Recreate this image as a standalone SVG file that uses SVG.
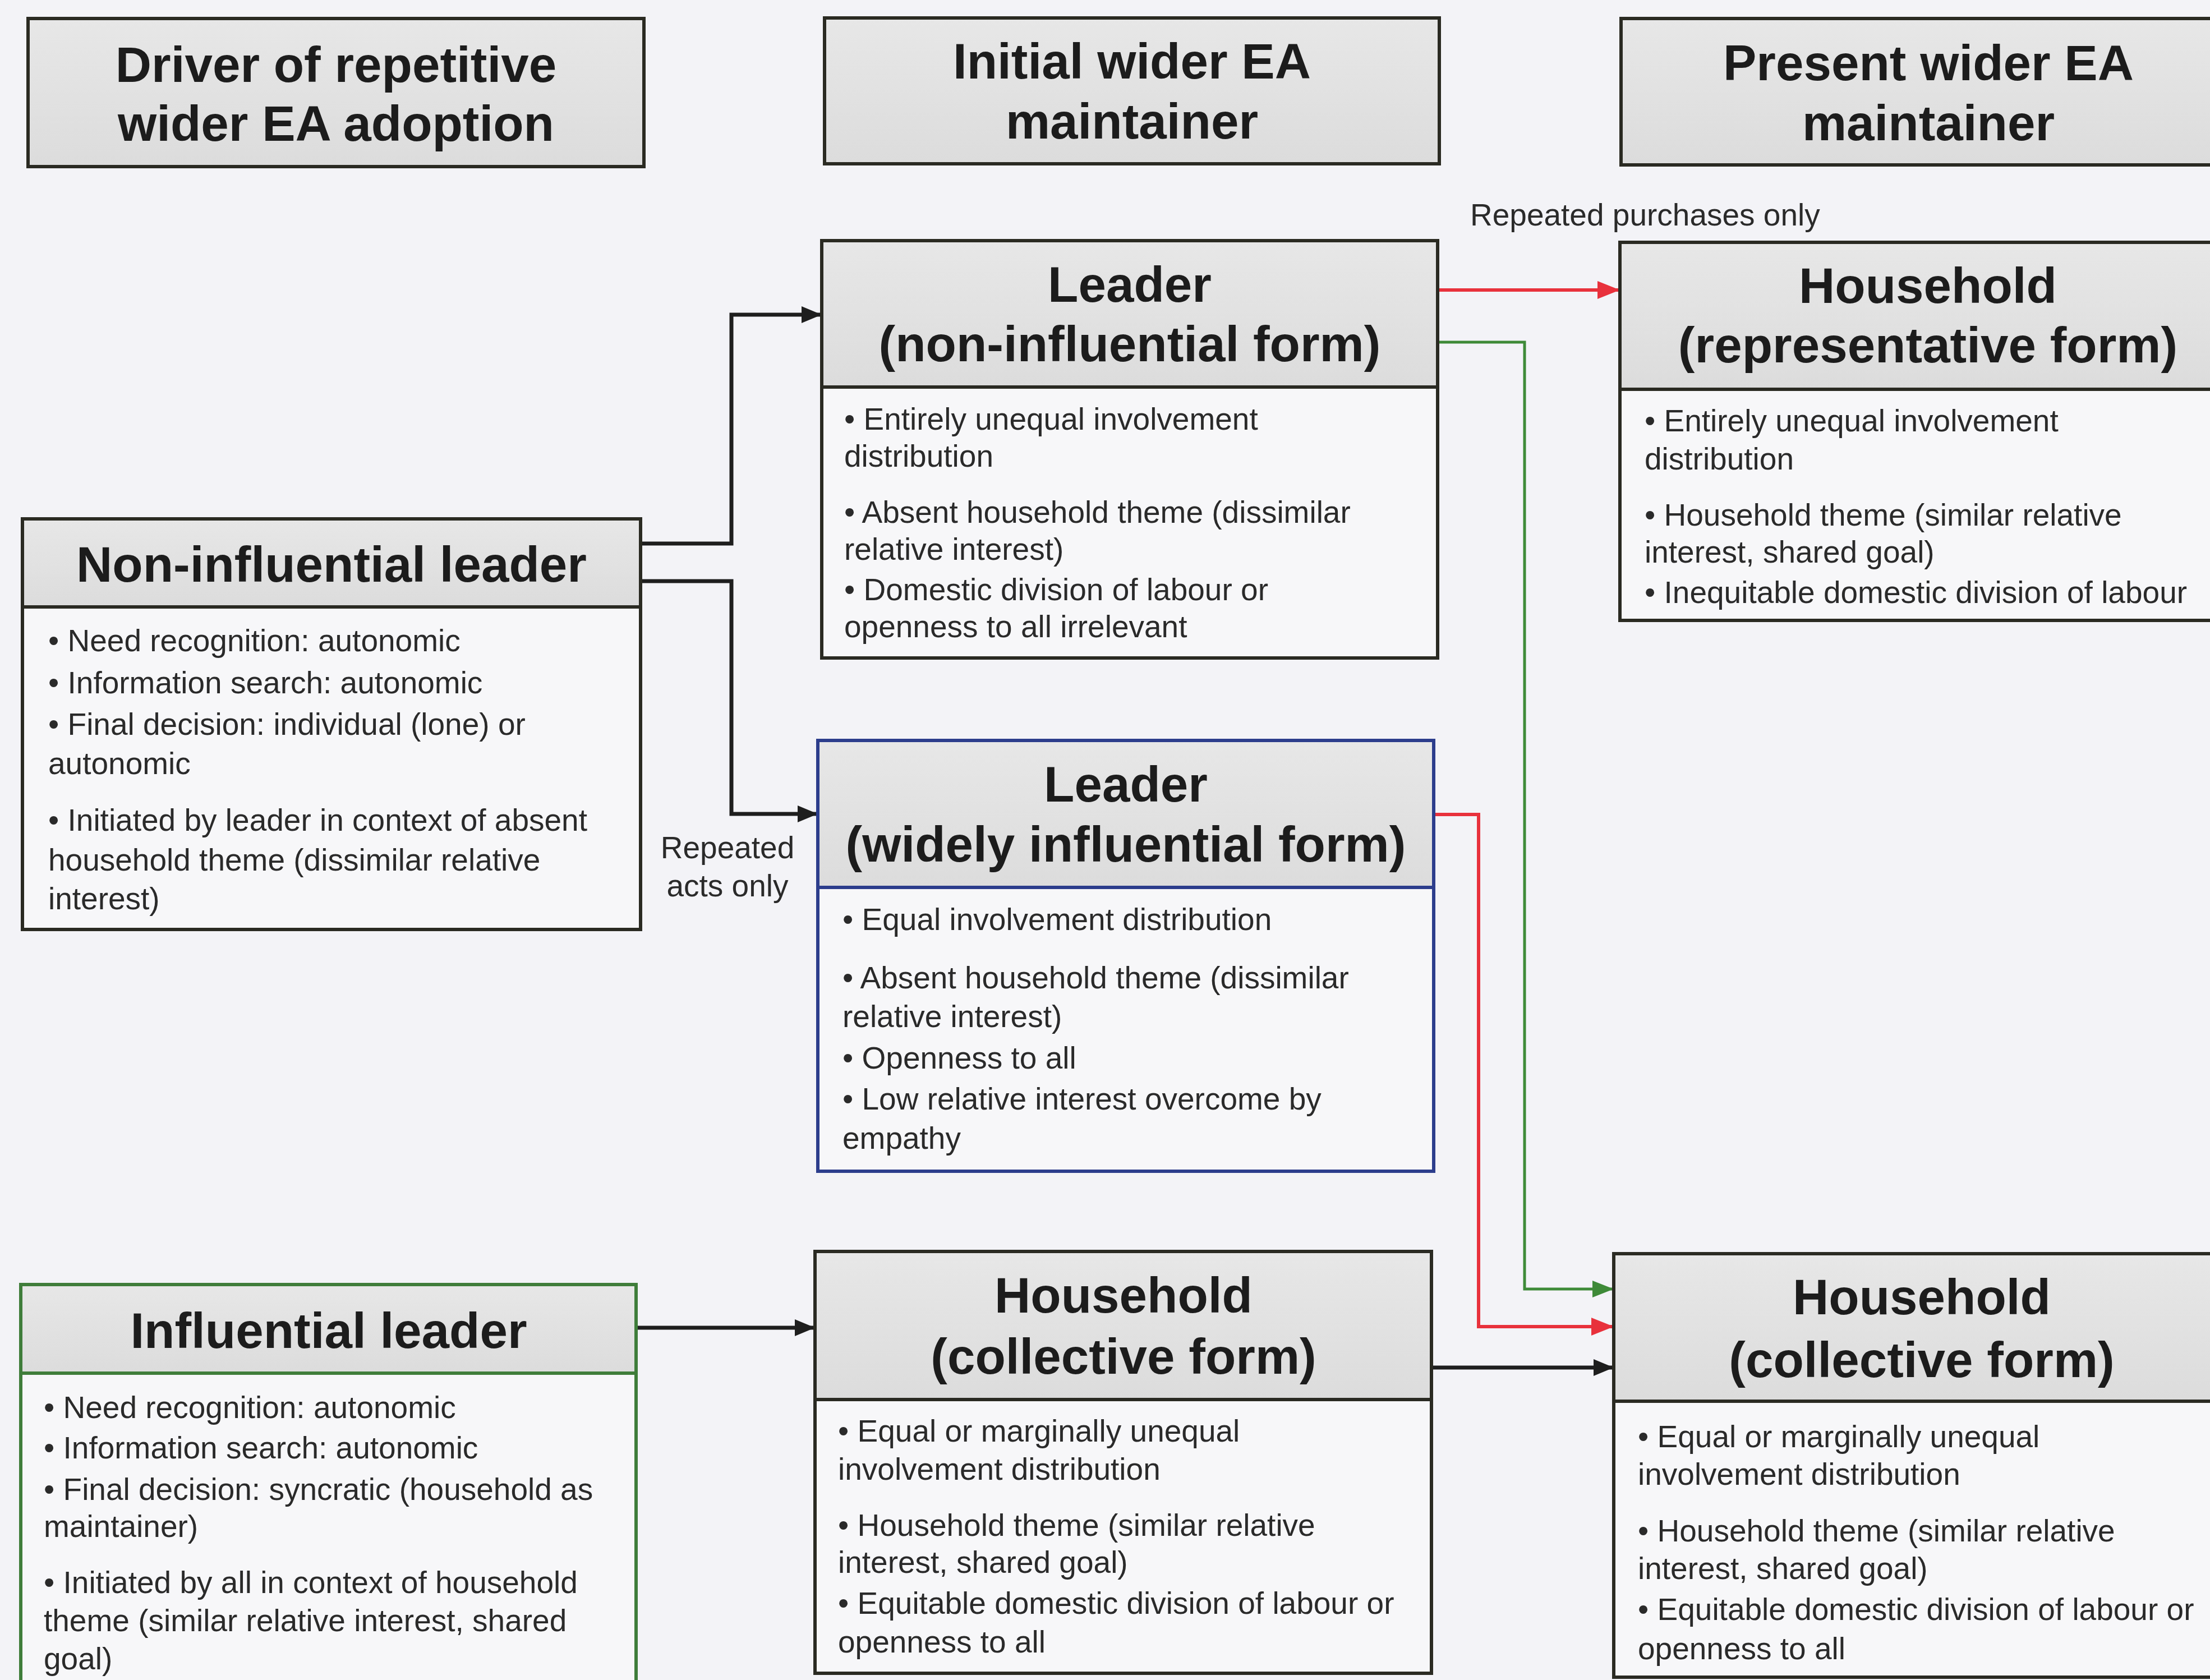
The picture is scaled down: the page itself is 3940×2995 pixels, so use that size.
<svg xmlns="http://www.w3.org/2000/svg" width="3940" height="2995" viewBox="0 0 3940 2995">
  <defs>
    <linearGradient id="band" x1="0" y1="0" x2="0" y2="1">
      <stop offset="0" stop-color="#e7e7e7"/>
      <stop offset="1" stop-color="#dcdcdc"/>
    </linearGradient>
    <marker id="arr-k" markerUnits="userSpaceOnUse" viewBox="0 0 36 30" refX="36" refY="15" markerWidth="36" markerHeight="30" orient="auto">
      <path d="M0,0 L36,15 L0,30 z" fill="#1e1e1e"/>
    </marker>
    <marker id="arr-r" markerUnits="userSpaceOnUse" viewBox="0 0 40 32" refX="40" refY="16" markerWidth="40" markerHeight="32" orient="auto">
      <path d="M0,0 L40,16 L0,32 z" fill="#e8313c"/>
    </marker>
    <marker id="arr-g" markerUnits="userSpaceOnUse" viewBox="0 0 38 30" refX="38" refY="15" markerWidth="38" markerHeight="30" orient="auto">
      <path d="M0,0 L38,15 L0,30 z" fill="#3e8a38"/>
    </marker>
  </defs>
  <style>
    .title{font-family:"Liberation Sans",Arial,sans-serif;font-weight:bold;font-size:89px;fill:#1c1c1c;text-anchor:middle}
    .body{font-family:"Liberation Sans",Arial,sans-serif;font-size:55px;fill:#2a2a2a}
    .mid{text-anchor:middle}
    .band{fill:url(#band)}
    .panel{fill:#f7f7f9}
    .frame{fill:none;stroke-width:6}
    .k{stroke:#2a2a22}
    .b{stroke:#2c3d8c}
    .g{stroke:#3f7d3a}
    .wire{fill:none;stroke-linejoin:miter}
    .wk{stroke:#1e1e1e;stroke-width:7}
    .wr{stroke:#e8313c;stroke-width:6}
    .wg{stroke:#3e8a38;stroke-width:5}
  </style>

  <rect x="0" y="0" width="3940" height="2995" fill="#f3f3f7"/>

  <!-- column headers -->
  <g id="hdr-driver">
    <rect class="band" x="50" y="33" width="1098" height="264"/>
    <rect class="frame k" x="50" y="33" width="1098" height="264"/>
    <text class="title" x="599" y="146">Driver of repetitive</text>
    <text class="title" x="599" y="251">wider EA adoption</text>
  </g>
  <g id="hdr-initial">
    <rect class="band" x="1470" y="32" width="1096" height="260"/>
    <rect class="frame k" x="1470" y="32" width="1096" height="260"/>
    <text class="title" x="2018" y="140">Initial wider EA</text>
    <text class="title" x="2018" y="247">maintainer</text>
  </g>
  <g id="hdr-present">
    <rect class="band" x="2890" y="33" width="1100" height="261"/>
    <rect class="frame k" x="2890" y="33" width="1100" height="261"/>
    <text class="title" x="3438" y="143">Present wider EA</text>
    <text class="title" x="3438" y="250">maintainer</text>
  </g>

  <!-- connectors -->
  <g id="connectors">
    <path class="wire wk" d="M1140,969 H1304 V561 H1465" marker-end="url(#arr-k)"/>
    <path class="wire wk" d="M1140,1036 H1304 V1451 H1458" marker-end="url(#arr-k)"/>
    <path class="wire wr" d="M2562,517 H2888" stroke-width="8" marker-end="url(#arr-r)"/>
    <path class="wire wg" d="M2562,610 H2718 V2298 H2877" marker-end="url(#arr-g)"/>
    <path class="wire wr" d="M2555,1452 H2636 V2365 H2877" marker-end="url(#arr-r)"/>
    <path class="wire wk" d="M2552,2438 H2877" marker-end="url(#arr-k)"/>
    <path class="wire wk" d="M1134,2367 H1453" marker-end="url(#arr-k)"/>
    <text class="body" x="2621" y="402">Repeated purchases only</text>
    <text class="body mid" x="1297" y="1530">Repeated</text>
    <text class="body mid" x="1297" y="1598">acts only</text>
  </g>

  <!-- Leader (non-influential form) -->
  <g id="leader-noninfluential">
    <rect class="panel" x="1465" y="429" width="1098" height="744"/>
    <rect class="band" x="1465" y="429" width="1098" height="261"/>
    <line class="frame k" x1="1465" y1="690" x2="2563" y2="690"/>
    <rect class="frame k" x="1465" y="429" width="1098" height="744"/>
    <text class="title" x="2014" y="538">Leader</text>
    <text class="title" x="2014" y="644">(non-influential form)</text>
    <text class="body" x="1505" y="766">• Entirely unequal involvement</text>
    <text class="body" x="1505" y="832">distribution</text>
    <text class="body" x="1505" y="932">• Absent household theme (dissimilar</text>
    <text class="body" x="1505" y="998">relative interest)</text>
    <text class="body" x="1505" y="1070">• Domestic division of labour or</text>
    <text class="body" x="1505" y="1136">openness to all irrelevant</text>
  </g>

  <!-- Household (representative form) -->
  <g id="household-representative">
    <rect class="panel" x="2888" y="432" width="1100" height="674"/>
    <rect class="band" x="2888" y="432" width="1100" height="262"/>
    <line class="frame k" x1="2888" y1="694" x2="3988" y2="694"/>
    <rect class="frame k" x="2888" y="432" width="1100" height="674"/>
    <text class="title" x="3437" y="540">Household</text>
    <text class="title" x="3437" y="646">(representative form)</text>
    <text class="body" x="2932" y="769">• Entirely unequal involvement</text>
    <text class="body" x="2932" y="837">distribution</text>
    <text class="body" x="2932" y="937">• Household theme (similar relative</text>
    <text class="body" x="2932" y="1003">interest, shared goal)</text>
    <text class="body" x="2932" y="1075">• Inequitable domestic division of labour</text>
  </g>

  <!-- Non-influential leader -->
  <g id="noninfluential-leader">
    <rect class="panel" x="40" y="925" width="1102" height="732"/>
    <rect class="band" x="40" y="925" width="1102" height="157"/>
    <line class="frame k" x1="40" y1="1082" x2="1142" y2="1082"/>
    <rect class="frame k" x="40" y="925" width="1102" height="732"/>
    <text class="title" x="591" y="1037">Non-influential leader</text>
    <text class="body" x="86" y="1161">• Need recognition: autonomic</text>
    <text class="body" x="86" y="1236">• Information search: autonomic</text>
    <text class="body" x="86" y="1310">• Final decision: individual (lone) or</text>
    <text class="body" x="86" y="1380">autonomic</text>
    <text class="body" x="86" y="1481">• Initiated by leader in context of absent</text>
    <text class="body" x="86" y="1552">household theme (dissimilar relative</text>
    <text class="body" x="86" y="1621">interest)</text>
  </g>

  <!-- Leader (widely influential form) -->
  <g id="leader-widely-influential">
    <rect class="panel" x="1458" y="1320" width="1098" height="768"/>
    <rect class="band" x="1458" y="1320" width="1098" height="262"/>
    <line class="frame b" x1="1458" y1="1582" x2="2556" y2="1582"/>
    <rect class="frame b" x="1458" y="1320" width="1098" height="768"/>
    <text class="title" x="2007" y="1429">Leader</text>
    <text class="title" x="2007" y="1536">(widely influential form)</text>
    <text class="body" x="1502" y="1658">• Equal involvement distribution</text>
    <text class="body" x="1502" y="1762">• Absent household theme (dissimilar</text>
    <text class="body" x="1502" y="1831">relative interest)</text>
    <text class="body" x="1502" y="1905">• Openness to all</text>
    <text class="body" x="1502" y="1978">• Low relative interest overcome by</text>
    <text class="body" x="1502" y="2048">empathy</text>
  </g>

  <!-- Influential leader -->
  <g id="influential-leader">
    <rect class="panel" x="37" y="2290" width="1097" height="730"/>
    <rect class="band" x="37" y="2290" width="1097" height="158"/>
    <line class="frame g" x1="37" y1="2448" x2="1134" y2="2448"/>
    <rect class="frame g" x="37" y="2290" width="1097" height="730"/>
    <text class="title" x="586" y="2403">Influential leader</text>
    <text class="body" x="78" y="2528">• Need recognition: autonomic</text>
    <text class="body" x="78" y="2600">• Information search: autonomic</text>
    <text class="body" x="78" y="2674">• Final decision: syncratic (household as</text>
    <text class="body" x="78" y="2740">maintainer)</text>
    <text class="body" x="78" y="2840">• Initiated by all in context of household</text>
    <text class="body" x="78" y="2908">theme (similar relative interest, shared</text>
    <text class="body" x="78" y="2976">goal)</text>
  </g>

  <!-- Household (collective form), initial -->
  <g id="household-collective-initial">
    <rect class="panel" x="1453" y="2231" width="1099" height="752"/>
    <rect class="band" x="1453" y="2231" width="1099" height="264"/>
    <line class="frame k" x1="1453" y1="2495" x2="2552" y2="2495"/>
    <rect class="frame k" x="1453" y="2231" width="1099" height="752"/>
    <text class="title" x="2003" y="2340">Household</text>
    <text class="title" x="2003" y="2449">(collective form)</text>
    <text class="body" x="1494" y="2570">• Equal or marginally unequal</text>
    <text class="body" x="1494" y="2638">involvement distribution</text>
    <text class="body" x="1494" y="2738">• Household theme (similar relative</text>
    <text class="body" x="1494" y="2804">interest, shared goal)</text>
    <text class="body" x="1494" y="2877">• Equitable domestic division of labour or</text>
    <text class="body" x="1494" y="2946">openness to all</text>
  </g>

  <!-- Household (collective form), present -->
  <g id="household-collective-present">
    <rect class="panel" x="2877" y="2235" width="1110" height="755"/>
    <rect class="band" x="2877" y="2235" width="1110" height="263"/>
    <line class="frame k" x1="2877" y1="2498" x2="3987" y2="2498"/>
    <rect class="frame k" x="2877" y="2235" width="1110" height="755"/>
    <text class="title" x="3426" y="2343">Household</text>
    <text class="title" x="3426" y="2455">(collective form)</text>
    <text class="body" x="2920" y="2580">• Equal or marginally unequal</text>
    <text class="body" x="2920" y="2647">involvement distribution</text>
    <text class="body" x="2920" y="2748">• Household theme (similar relative</text>
    <text class="body" x="2920" y="2815">interest, shared goal)</text>
    <text class="body" x="2920" y="2888">• Equitable domestic division of labour or</text>
    <text class="body" x="2920" y="2958">openness to all</text>
  </g>
</svg>
